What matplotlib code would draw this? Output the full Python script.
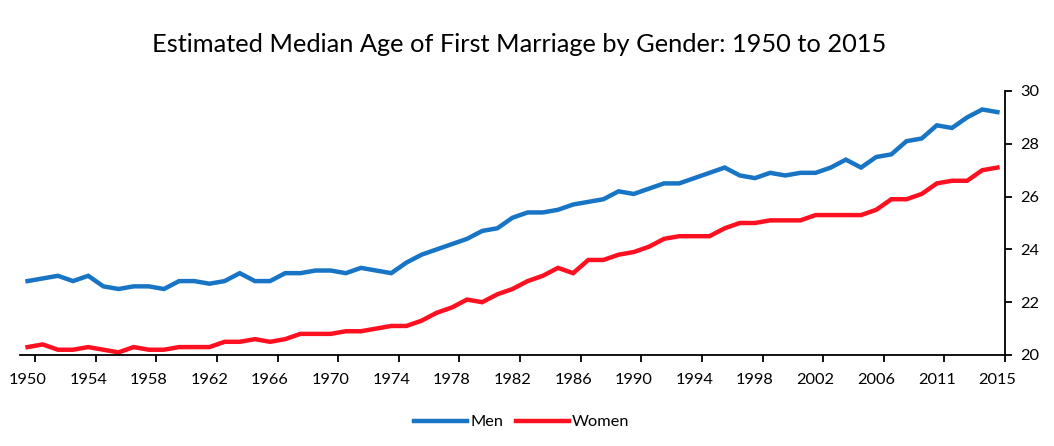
import matplotlib
matplotlib.use('Agg')
import matplotlib.pyplot as plt
from matplotlib.ticker import FixedLocator

plt.rcParams['font.family'] = ['Lato', 'DejaVu Sans']

# years shown in the chart (2007 is not in the series)
years = list(range(1950, 2007)) + list(range(2008, 2016))
men = [22.8, 22.9, 23.0, 22.8, 23.0, 22.6, 22.5, 22.6, 22.6, 22.5,
       22.8, 22.8, 22.7, 22.8, 23.1, 22.8, 22.8, 23.1, 23.1, 23.2,
       23.2, 23.1, 23.3, 23.2, 23.1, 23.5, 23.8, 24.0, 24.2, 24.4,
       24.7, 24.8, 25.2, 25.4, 25.4, 25.5, 25.7, 25.8, 25.9, 26.2,
       26.1, 26.3, 26.5, 26.5, 26.7, 26.9, 27.1, 26.8, 26.7, 26.9,
       26.8, 26.9, 26.9, 27.1, 27.4, 27.1, 27.5,
       27.6, 28.1, 28.2, 28.7, 28.6, 29.0, 29.3, 29.2]
women = [20.3, 20.4, 20.2, 20.2, 20.3, 20.2, 20.1, 20.3, 20.2, 20.2,
         20.3, 20.3, 20.3, 20.5, 20.5, 20.6, 20.5, 20.6, 20.8, 20.8,
         20.8, 20.9, 20.9, 21.0, 21.1, 21.1, 21.3, 21.6, 21.8, 22.1,
         22.0, 22.3, 22.5, 22.8, 23.0, 23.3, 23.1, 23.6, 23.6, 23.8,
         23.9, 24.1, 24.4, 24.5, 24.5, 24.5, 24.8, 25.0, 25.0, 25.1,
         25.1, 25.1, 25.3, 25.3, 25.3, 25.3, 25.5,
         25.9, 25.9, 26.1, 26.5, 26.6, 26.6, 27.0, 27.1]
y_ticks = [20, 22, 24, 26, 28, 30]

x = list(range(len(years)))

fig = plt.figure(figsize=(10.54, 4.46), dpi=100)
ax = fig.add_axes([20/1054, 1-355/446, (1005-20)/1054, (355-91)/446])

ax.plot(x, men, color='#1874C4', lw=3.2, label='Men', solid_joinstyle='miter')
ax.plot(x, women, color='#FF1020', lw=3.2, label='Women', solid_joinstyle='miter')

ax.set_xlim(-0.5, len(years) - 0.5)
ax.set_ylim(20, 30)

# labels every 4th category, tick marks between categories
lab_pos = x[::4]
ax.set_xticks(lab_pos)
ax.set_xticklabels([str(years[i]) for i in lab_pos])
ax.xaxis.set_minor_locator(FixedLocator([i + 0.5 for i in lab_pos]))
ax.tick_params(axis='x', which='major', length=0, pad=13, labelsize=11.8)
ax.tick_params(axis='x', which='minor', length=5, width=1.3, direction='out')

ax.yaxis.tick_right()
ax.set_yticks(y_ticks)
ax.tick_params(axis='y', which='major', length=5, width=1.3, pad=6, labelsize=11.8)

for s in ['top', 'left']:
    ax.spines[s].set_visible(False)
for s in ['bottom', 'right']:
    ax.spines[s].set_linewidth(1.3)

fig.suptitle('Estimated Median Age of First Marriage by Gender: 1950 to 2015',
             x=519/1054, y=1-45/446, va='center', fontsize=18.3)

fig.legend(loc='center', bbox_to_anchor=(522/1054, 1-422/446), ncol=2,
           frameon=False, fontsize=11.8, handlelength=3.2, handletextpad=0.2,
           columnspacing=0.8)

fig.savefig('out.png', dpi=100)
